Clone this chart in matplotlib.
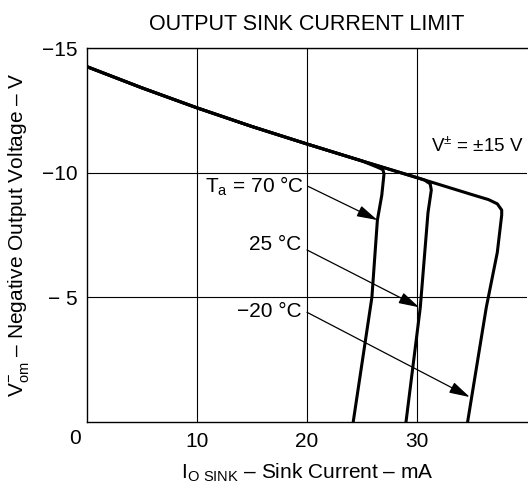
import matplotlib
matplotlib.use("Agg")
from matplotlib import pyplot as plt

plt.rcParams['font.family'] = ['Liberation Sans', 'DejaVu Sans']
plt.rcParams['mathtext.fontset'] = 'custom'
plt.rcParams['mathtext.rm'] = 'Liberation Sans'

# sink current (mA) vs negative output voltage (V)
env_x = [0, 5, 10, 15, 20, 25]
env_y = [-14.25, -13.4, -12.6, -11.85, -11.15, -10.47]

t70_x = env_x + [26.4, 26.9, 27.0, 26.8, 26.4, 25.9, 24.2]
t70_y = env_y + [-10.22, -10.12, -9.95, -9.1, -8.1, -5.0, 0.0]

t25_x = env_x + [30.0, 30.7, 31.2, 31.3, 31.0, 30.3, 29.0]
t25_y = env_y + [-9.8, -9.7, -9.55, -9.3, -8.4, -4.6, 0.0]

tm20_x = env_x + [30.0, 35.0, 36.5, 37.3, 37.7, 37.7, 37.3, 36.3, 34.6]
tm20_y = env_y + [-9.8, -9.12, -8.92, -8.75, -8.5, -8.3, -6.8, -4.6, 0.0]

x_ticks = [10, 20, 30]
y_ticks = [-15, -10, -5]
y_tick_labels = ['\u221215', '\u221210', '\u2212 5']

labels = [r'T$_\mathregular{a}$ = 70 °C', '25 °C', '\u221220 °C']
label_pos = [(19.7, -9.45), (19.5, -7.1), (19.5, -4.45)]
arrow_tail = [(20.1, -9.45), (20.0, -6.9), (20.0, -4.4)]
arrow_tip = [(26.4, -8.1), (30.2, -4.6), (34.8, -1.0)]

fig = plt.figure(figsize=(5.28, 4.94), dpi=100)
ax = fig.add_axes([87/528, 72/494, 440/528, 374/494])

for xs, ys in [(t70_x, t70_y), (t25_x, t25_y), (tm20_x, tm20_y)]:
    ax.plot(xs, ys, color='black', lw=2.2, solid_joinstyle='round', zorder=3)

ax.set_xlim(0, 40)
ax.set_ylim(0, -15)
ax.set_xticks(x_ticks)
ax.set_yticks(y_ticks)
ax.set_yticklabels(y_tick_labels)
ax.tick_params(length=0, labelsize=15)
ax.tick_params(axis='x', pad=7)
ax.tick_params(axis='y', pad=7)
ax.grid(True, color='black', lw=0.8)
ax.spines['right'].set_visible(False)
for s in ['left', 'bottom', 'top']:
    ax.spines[s].set_linewidth(1.0)

# corner zero label
ax.text(-0.028, -0.02, '0', transform=ax.transAxes, ha='center', va='top', fontsize=15)

for lab, (lx, ly), tail, tip in zip(labels, label_pos, arrow_tail, arrow_tip):
    ax.text(lx, ly, lab, ha='right', va='center', fontsize=15)
    ax.annotate('', xy=tip, xytext=tail,
                arrowprops=dict(arrowstyle='-|>,head_length=0.9,head_width=0.25',
                                color='black', lw=0.9, mutation_scale=14,
                                shrinkA=0, shrinkB=0))

ax.text(31.3, -11.1, r'V$^{\mathregular{\pm}}$ = ±15 V', ha='left', va='center', fontsize=13.5)

ax.set_title('OUTPUT SINK CURRENT LIMIT', fontsize=15.5, pad=13)
ax.set_xlabel('I$_\\mathregular{O\\ SINK}$ \u2013 Sink Current \u2013 mA',
              fontsize=15, labelpad=8)
ax.set_ylabel('V$_\\mathregular{om}^{\\mathregular{-}}$ \u2013 Negative Output Voltage \u2013 V',
              fontsize=15, labelpad=8)

fig.savefig('out.png', dpi=100)
